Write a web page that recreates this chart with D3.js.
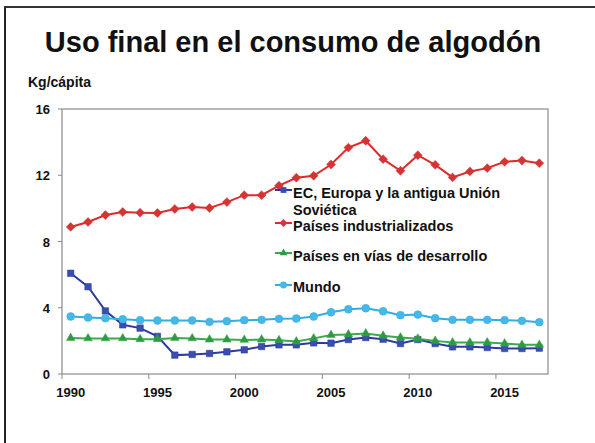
<!DOCTYPE html>
<html>
<head>
<meta charset="utf-8">
<script src="https://d3js.org/d3.v7.min.js"></script>
<style>
  body { margin: 0; background: #fff; }
  svg text { font-family: "Liberation Sans", Arial, sans-serif; font-weight: bold; fill: #111; }
</style>
</head>
<body>
<div id="chart"></div>
<script>
// Data
const years = d3.range(1990, 2018);
const ecEuropa = [6.08, 5.27, 3.81, 2.97, 2.77, 2.27, 1.14, 1.18, 1.24, 1.34, 1.46, 1.66, 1.76, 1.76,
                  1.88, 1.86, 2.08, 2.2, 2.1, 1.84, 2.08, 1.84, 1.64, 1.64, 1.6, 1.54, 1.54, 1.56];
const industrializados = [8.88, 9.18, 9.6, 9.78, 9.74, 9.72, 9.96, 10.08, 10.02, 10.38, 10.8, 10.8, 11.37, 11.85,
                          11.97, 12.65, 13.67, 14.08, 12.97, 12.27, 13.21, 12.63, 11.87, 12.23, 12.43, 12.81, 12.89, 12.73];
const enDesarrollo = [2.17, 2.15, 2.15, 2.15, 2.1, 2.1, 2.17, 2.15, 2.08, 2.08, 2.06, 2.08, 2.04, 1.96,
                      2.15, 2.35, 2.39, 2.45, 2.31, 2.2, 2.13, 2.0, 1.9, 1.9, 1.9, 1.84, 1.76, 1.76];
const mundo = [3.47, 3.41, 3.37, 3.31, 3.25, 3.23, 3.23, 3.23, 3.15, 3.19, 3.25, 3.27, 3.33, 3.35,
               3.47, 3.73, 3.91, 3.97, 3.79, 3.55, 3.59, 3.37, 3.27, 3.27, 3.27, 3.25, 3.21, 3.13];
const yTicks = [0, 4, 8, 12, 16];
const xTickYears = [1990, 1995, 2000, 2005, 2010, 2015];

const series = [
  { name: ["EC, Europa y la antigua Unión", "Soviética"], values: ecEuropa, line: "#2e3a9c", fill: "#3a4db0", symbol: d3.symbolSquare, size: 42 },
  { name: ["Países industrializados"], values: industrializados, line: "#e02a2a", fill: "#d33535", symbol: d3.symbolDiamond2, size: 50 },
  { name: ["Países en vías de desarrollo"], values: enDesarrollo, line: "#3aaa4c", fill: "#2f9a44", symbol: d3.symbolTriangle, size: 32 },
  { name: ["Mundo"], values: mundo, line: "#33ade0", fill: "#45b8e8", symbol: d3.symbolCircle, size: 48 }
];

const width = 595, height = 443;
const plot = { left: 62, right: 548, top: 109, bottom: 374 };

const svg = d3.select("#chart").append("svg")
  .attr("width", width)
  .attr("height", height);

// Outer frame (left and top only)
svg.append("line").attr("x1", 5).attr("y1", 7).attr("x2", 5).attr("y2", height)
  .attr("stroke", "#222").attr("stroke-width", 2);
svg.append("line").attr("x1", 4).attr("y1", 7).attr("x2", width).attr("y2", 7)
  .attr("stroke", "#333").attr("stroke-width", 2);

// Title and unit
svg.append("text")
  .attr("x", 293).attr("y", 52)
  .attr("text-anchor", "middle")
  .style("font-size", "29px")
  .text("Uso final en el consumo de algodón");
svg.append("text")
  .attr("x", 28).attr("y", 87)
  .style("font-size", "14px")
  .text("Kg/cápita");

// Scales
const x = d3.scaleBand().domain(years).range([plot.left, plot.right]);
const y = d3.scaleLinear().domain([0, 16]).range([plot.bottom, plot.top]);
const cx = d => x(d) + x.bandwidth() / 2;

// Plot box
svg.append("rect")
  .attr("x", plot.left).attr("y", plot.top)
  .attr("width", plot.right - plot.left).attr("height", plot.bottom - plot.top)
  .attr("fill", "none").attr("stroke", "#8a8a8a").attr("stroke-width", 1.2);

// Y axis ticks and labels
const yAxis = svg.append("g");
yAxis.selectAll("line").data(yTicks).join("line")
  .attr("x1", plot.left - 4).attr("x2", plot.left)
  .attr("y1", d => y(d)).attr("y2", d => y(d))
  .attr("stroke", "#8a8a8a");
yAxis.selectAll("text").data(yTicks).join("text")
  .attr("x", 50).attr("y", d => y(d) + 5)
  .attr("text-anchor", "end")
  .style("font-size", "13px")
  .text(d => d);

// X axis ticks (category boundaries) and labels (category centres)
const xAxis = svg.append("g");
xAxis.selectAll("line").data(xTickYears).join("line")
  .attr("x1", d => x(d)).attr("x2", d => x(d))
  .attr("y1", plot.bottom).attr("y2", plot.bottom + 5)
  .attr("stroke", "#8a8a8a");
xAxis.selectAll("text").data(xTickYears).join("text")
  .attr("x", d => cx(d)).attr("y", plot.bottom + 23)
  .attr("text-anchor", "middle")
  .style("font-size", "13px")
  .text(d => d);

// Lines and markers
const line = d3.line().x((d, i) => cx(years[i])).y(d => y(d));
series.forEach(s => {
  const g = svg.append("g");
  g.append("path")
    .attr("d", line(s.values))
    .attr("fill", "none")
    .attr("stroke", s.line)
    .attr("stroke-width", 2);
  g.selectAll("path.m").data(s.values).join("path")
    .attr("class", "m")
    .attr("transform", (d, i) => `translate(${cx(years[i])},${y(d)})`)
    .attr("d", d3.symbol().type(s.symbol).size(s.size))
    .attr("fill", s.fill)
    .attr("stroke", s.line)
    .attr("stroke-opacity", 0.5)
    .attr("stroke-width", 1);
});

// Legend: marker row and text baseline for each entry
const legendRows = [190, 223, 253, 285];
const legendBase = [198, 231, 261, 292];
const legend = svg.append("g");
series.forEach((s, i) => {
  const ly = legendRows[i];
  legend.append("line")
    .attr("x1", 275).attr("x2", 292).attr("y1", ly).attr("y2", ly)
    .attr("stroke", s.line).attr("stroke-width", 2);
  legend.append("path")
    .attr("transform", `translate(283.5,${ly})`)
    .attr("d", d3.symbol().type(s.symbol).size(s.size * 0.8))
    .attr("fill", s.fill);
  s.name.forEach((t, j) => {
    legend.append("text")
      .attr("x", 293).attr("y", legendBase[i] + j * 16.5)
      .style("font-size", "14.5px")
      .text(t);
  });
});
</script>
</body>
</html>
